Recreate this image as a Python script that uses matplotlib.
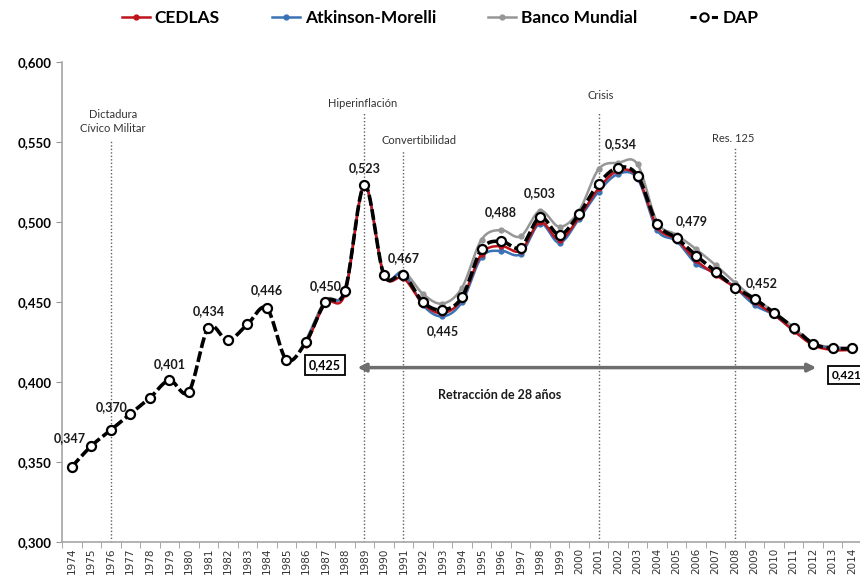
import matplotlib
matplotlib.use("Agg")
import matplotlib.pyplot as plt
import numpy as np

# data
years = list(range(1974, 2015))
dap = [0.347, 0.360, 0.370, 0.380, 0.390, 0.401, 0.394, 0.434, 0.426, 0.436,
       0.446, 0.414, 0.425, 0.450, 0.457, 0.523, 0.467, 0.467, 0.450, 0.445,
       0.453, 0.483, 0.488, 0.484, 0.503, 0.492, 0.505, 0.524, 0.534, 0.529,
       0.499, 0.490, 0.479, 0.469, 0.459, 0.452, 0.443, 0.434, 0.424, 0.421,
       0.421]
# the other three series start in 1986
years_b = list(range(1986, 2015))
cedlas = [0.423, 0.449, 0.455, 0.523, 0.467, 0.465, 0.449, 0.443, 0.452, 0.480,
          0.485, 0.482, 0.500, 0.489, 0.503, 0.521, 0.532, 0.528, 0.497, 0.489,
          0.476, 0.467, 0.459, 0.450, 0.442, 0.432, 0.423, 0.420, 0.420]
atkinson = [0.425, 0.450, 0.457, 0.523, 0.467, 0.468, 0.448, 0.441, 0.450, 0.478,
            0.482, 0.480, 0.499, 0.487, 0.502, 0.519, 0.530, 0.527, 0.495, 0.488,
            0.474, 0.468, 0.459, 0.448, 0.442, 0.432, 0.424, 0.421, 0.421]
banco = [0.426, 0.451, 0.457, 0.523, 0.467, 0.469, 0.455, 0.449, 0.459, 0.489,
         0.495, 0.491, 0.507, 0.497, 0.507, 0.533, 0.537, 0.536, 0.500, 0.492,
         0.483, 0.473, 0.462, 0.452, 0.444, 0.434, 0.424, 0.422, 0.421]

events = ["Dictadura\nCívico Militar", "Hiperinflación", "Convertibilidad", "Crisis", "Res. 125"]
event_years = [1976, 1989, 1991, 2001, 2008]
label_years = [1974, 1976, 1979, 1981, 1984, 1987, 1989, 1991, 1993, 1996, 1998, 2002, 2006, 2009]

# layout bits (pixels offsets / data positions for event texts)
label_off = [(-2, 29), (1, 23), (0, 16), (0, 17), (0, 18), (0, 16), (0, 17), (0, 17),
             (0, -21), (0, 29), (0, 24), (3, 24), (-4, 35), (7, 16)]
event_top = [0.551, 0.569, 0.545, 0.569, 0.546]
event_text = [(1976.1, 0.563), (1988.9, 0.574), (1991.8, 0.551), (2001.1, 0.579), (2007.9, 0.5525)]

plt.rcParams['font.family'] = ['Lato', 'DejaVu Sans']


def smooth(x, y, n=20):
    # catmull-rom like excel smoothed line
    x = np.asarray(x, float)
    y = np.asarray(y, float)
    px = np.concatenate([[2 * x[0] - x[1]], x, [2 * x[-1] - x[-2]]])
    py = np.concatenate([[2 * y[0] - y[1]], y, [2 * y[-1] - y[-2]]])
    xs, ys = [], []
    t = np.linspace(0, 1, n, endpoint=False)
    for i in range(1, len(px) - 2):
        for arr, out in ((px, xs), (py, ys)):
            p0, p1, p2, p3 = arr[i - 1], arr[i], arr[i + 1], arr[i + 2]
            out.extend(0.5 * ((2 * p1) + (-p0 + p2) * t + (2 * p0 - 5 * p1 + 4 * p2 - p3) * t ** 2
                              + (-p0 + 3 * p1 - 3 * p2 + p3) * t ** 3))
    xs.append(x[-1])
    ys.append(y[-1])
    return np.array(xs), np.array(ys)


x_all = np.arange(len(years))
x_b = np.array([years.index(y) for y in years_b])

fig = plt.figure(figsize=(8.6, 5.79), dpi=100)
ax = fig.add_axes([62 / 860, 1 - 542 / 579, 800 / 860, 480 / 579])

series = [(banco, "#969696", "Banco Mundial"), (atkinson, "#3A72B5", "Atkinson-Morelli"),
          (cedlas, "#C0141C", "CEDLAS")]
handles = {}
for vals, col, name in series:
    sx, sy = smooth(x_b, vals)
    ax.plot(sx, sy, color=col, lw=1.8, zorder=2)
    ax.plot(x_b, vals, 'o', color=col, ms=3.5, zorder=2)
    handles[name] = ax.plot([], [], '-o', color=col, lw=1.8, ms=3.5, label=name)[0]

sx, sy = smooth(x_all, dap)
ax.plot(sx, sy, color="black", lw=2.6, ls=(0, (3, 1)), zorder=3)
ax.plot(x_all, dap, 'o', mfc="white", mec="black", mew=1.6, ms=6.5, zorder=4)
handles["DAP"] = ax.plot([], [], ls=(0, (2, 1.5)), color="black", lw=2.2, marker='o',
                         mfc="white", mec="black", mew=1.5, ms=6, label="DAP")[0]

# data labels
for yr, (dx, dy) in zip(label_years, label_off):
    i = years.index(yr)
    ax.annotate("{:.3f}".format(dap[i]).replace(".", ","), (i, dap[i]),
                xytext=(dx, dy), textcoords="offset pixels", ha="center", va="center",
                fontsize=9, fontweight="bold", color="#1a1a1a", zorder=5)

# event lines
for ev, yr, top, (tx, ty) in zip(events, event_years, event_top, event_text):
    i = years.index(yr)
    ax.plot([i, i], [0.3, top], color="#606060", lw=1, ls=(0, (1, 1.5)), zorder=1)
    ax.text(tx - years[0], ty, ev, ha="center", va="center", fontsize=8, color="#333333",
            linespacing=1.3)

# boxed values and arrow
i86 = years.index(1986)
ax.annotate("{:.3f}".format(dap[i86]).replace(".", ","), (i86, dap[i86]), xytext=(19, -23),
            textcoords="offset pixels", ha="center", va="center", fontsize=9,
            fontweight="bold", bbox=dict(boxstyle="square,pad=0.35", fc="white", ec="black", lw=1.3))
ax.text(38.95, 0.4045, "{:.3f}".format(dap[-1]).replace(".", ","), ha="left", va="center",
        fontsize=8.5, fontweight="bold", clip_on=False,
        bbox=dict(boxstyle="square,pad=0.3", fc="white", ec="black", lw=1.3))
ax.annotate("", xy=(14.5, 0.409), xytext=(38.3, 0.409),
            arrowprops=dict(arrowstyle="<|-|>", color="#6e6e6e", lw=2.5, mutation_scale=12))
ax.text(21.95, 0.392, "Retracción de 28 años", ha="center", va="center", fontsize=9,
        fontweight="bold", color="#1a1a1a")

# axes
ax.set_xlim(-0.5, len(years) - 0.5)
ax.set_ylim(0.3, 0.6)
ax.set_yticks(np.arange(0.30, 0.601, 0.05))
ax.set_yticklabels(["{:.3f}".format(v).replace(".", ",") for v in np.arange(0.30, 0.601, 0.05)],
                   fontweight="bold", fontsize=9.5)
ax.set_xticks(x_all)
ax.set_xticklabels([str(y) for y in years], rotation=90, fontsize=7.5, color="#333333",
                   family="DejaVu Sans")
ax.set_xticks(np.arange(-0.5, len(years)), minor=True)
ax.tick_params(axis="x", which="major", length=0, pad=4)
ax.tick_params(axis="x", which="minor", length=4, color="#999999")
ax.tick_params(axis="y", length=4, color="#999999")
for s in ["top", "right"]:
    ax.spines[s].set_visible(False)
for s in ["left", "bottom"]:
    ax.spines[s].set_color("#a6a6a6")
    ax.spines[s].set_linewidth(1.2)

leg = fig.legend([handles[n] for n in ["CEDLAS", "Atkinson-Morelli", "Banco Mundial", "DAP"]],
                 ["CEDLAS", "Atkinson-Morelli", "Banco Mundial", "DAP"],
                 loc="center", bbox_to_anchor=(0.512, 1 - 18 / 579), ncol=4, frameon=False,
                 prop=dict(weight="bold", size=12.5), handlelength=1.6, handletextpad=0.3,
                 columnspacing=3.0)

fig.savefig("out.png", dpi=100)
